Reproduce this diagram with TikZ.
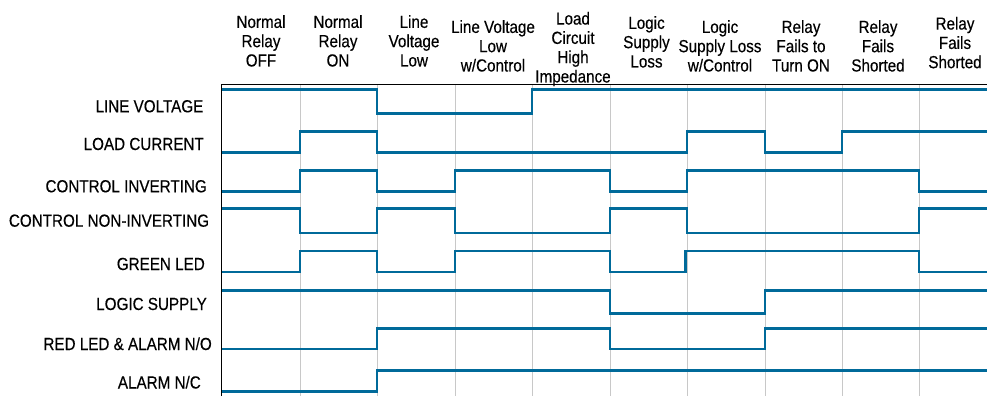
\documentclass[tikz,border=0pt]{standalone}
\usepackage{fontspec}
\newfontfamily\condfont[FakeStretch=0.87,FakeBold=0.35]{Liberation Sans}
\definecolor{sig}{RGB}{0,106,154}
\definecolor{gridgray}{RGB}{200,200,200}
\begin{document}
\begin{tikzpicture}[x=1pt,y=-1pt,
  wave/.style={draw=sig,line width=2.6pt},
  gridline/.style={draw=gridgray,line width=1pt},
  frame/.style={draw=black,line width=1.4pt},
  head/.style={font=\condfont\fontsize{17.5}{19.3}\selectfont,align=center,anchor=north,inner sep=0pt,text=black},
  rowlabel/.style={font=\condfont\fontsize{17.5}{21}\selectfont,anchor=base east,inner sep=0pt,text=black}]
\useasboundingbox (0,0) rectangle (987,396);
% grid
\foreach \gx in {300,377,455,532,610,687,765,842,919}
  \draw[gridline] (\gx,85) -- (\gx,396);
% frame
\draw[frame] (221.5,396) -- (221.5,84.5) -- (987,84.5);
% headers
\node[head] (h0) at (261,15) {Normal\\Relay\\OFF};
\node[head] (h1) at (338,15) {Normal\\Relay\\ON};
\node[head] (h2) at (414,15) {Line\\Voltage\\Low};
\node[head] (h3) at (493,20) {Line Voltage\\Low\\w/Control};
\node[head] (h4) at (573,11.7) {Load\\Circuit\\High\\Impedance};
\node[head] (h5) at (646.5,16) {Logic\\Supply\\Loss};
\node[head] (h6) at (720,20) {Logic\\Supply Loss\\w/Control};
\node[head] (h7) at (801,20) {Relay\\Fails to\\Turn ON};
\node[head] (h8) at (878,20) {Relay\\Fails\\Shorted};
\node[head] (h9) at (955,16.7) {Relay\\Fails\\Shorted};
% row labels
\node[rowlabel] (l0) at (203.5,112.3) {LINE VOLTAGE};
\node[rowlabel] (l1) at (204,150) {LOAD CURRENT};
\node[rowlabel] (l2) at (207,192.3) {CONTROL INVERTING};
\node[rowlabel] (l3) at (209.3,226.7) {CONTROL NON-INVERTING};
\node[rowlabel] (l4) at (205,270) {GREEN LED};
\node[rowlabel] (l5) at (207,310) {LOGIC SUPPLY};
\node[rowlabel] (l6) at (212,350) {RED LED \& ALARM N/O};
\node[rowlabel] (l7) at (201,388.5) {ALARM N/C};
% waveforms
% LINE VOLTAGE hi 89.5 lo 113.5
\draw[wave] (222,89.5) -- (377,89.5) -- (377,113.5) -- (532,113.5) -- (532,89.5) -- (987,89.5);
% LOAD CURRENT hi 131.5 lo 152.5
\draw[wave] (222,152.5) -- (300,152.5) -- (300,131.5) -- (377,131.5) -- (377,152.5) -- (687,152.5) -- (687,131.5) -- (765,131.5) -- (765,152.5) -- (842,152.5) -- (842,131.5) -- (987,131.5);
% CONTROL INVERTING hi 170.5 lo 191.5
\draw[wave] (222,191.5) -- (300,191.5) -- (300,170.5) -- (377,170.5) -- (377,191.5) -- (455,191.5) -- (455,170.5) -- (610,170.5) -- (610,191.5) -- (687,191.5) -- (687,170.5) -- (919,170.5) -- (919,191.5) -- (987,191.5);
% CONTROL NON-INVERTING hi 208.5 lo 233
\draw[wave] (222,208.5) -- (300,208.5) -- (300,233) -- (377,233) -- (377,208.5) -- (455,208.5) -- (455,233) -- (610,233) -- (610,208.5) -- (687,208.5) -- (687,233) -- (919,233) -- (919,208.5) -- (987,208.5);
% GREEN LED hi 251 lo 272
\draw[wave] (222,272) -- (300,272) -- (300,251) -- (377,251) -- (377,272) -- (455,272) -- (455,251) -- (610,251) -- (610,272) -- (685.5,272) -- (685.5,251) -- (919,251) -- (919,272) -- (987,272);
% LOGIC SUPPLY hi 290.5 lo 313.5
\draw[wave] (222,290.5) -- (610,290.5) -- (610,313.5) -- (765,313.5) -- (765,290.5) -- (987,290.5);
% RED LED & ALARM N/O hi 328.5 lo 349
\draw[wave] (222,349) -- (377,349) -- (377,328.5) -- (610,328.5) -- (610,349) -- (765,349) -- (765,328.5) -- (987,328.5);
% ALARM N/C hi 370.5 lo 391.5
\draw[wave] (222,391.5) -- (377,391.5) -- (377,370.5) -- (987,370.5);
\end{tikzpicture}
\end{document}
